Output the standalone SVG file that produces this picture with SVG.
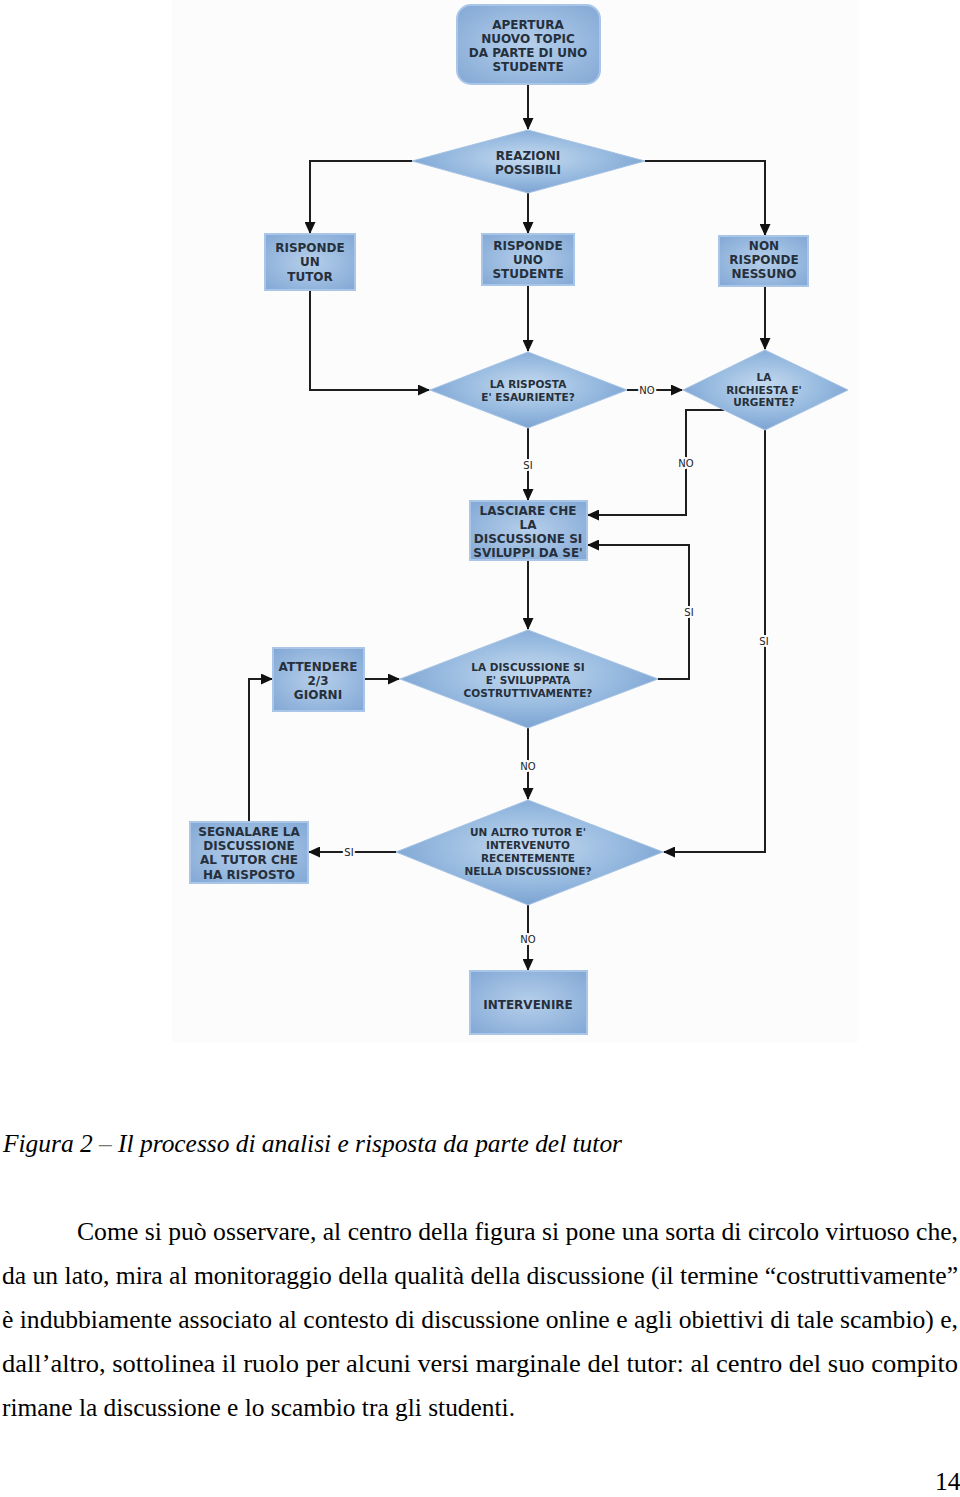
<svg xmlns="http://www.w3.org/2000/svg" width="960" height="1497" viewBox="0 0 960 1497">
<style>
.box{stroke:#a9c6e8;stroke-width:2;fill:url(#bg)}
.dia{fill:url(#dg);stroke:#a4c2e4;stroke-width:1}
.nt{font-family:"DejaVu Sans",Verdana,sans-serif;font-weight:bold;font-size:12px;fill:#26303c;text-anchor:middle}
.dt{font-family:"DejaVu Sans",Verdana,sans-serif;font-weight:bold;font-size:10.5px;fill:#26303c;text-anchor:middle}
.lbl{font-family:"DejaVu Sans",Verdana,sans-serif;font-size:10px;fill:#222;text-anchor:middle;stroke:#fcfcfc;stroke-width:4;paint-order:stroke}
.cn{fill:none;stroke:#1e1e1e;stroke-width:2}
.body{font-family:"Liberation Serif","Times New Roman",serif;font-size:25.5px;fill:#000}
</style>
<defs>
<radialGradient id="bg" cx="50%" cy="50%" r="70%">
<stop offset="0" stop-color="#b6cfeb"/>
<stop offset="1" stop-color="#82a8d5"/>
</radialGradient>
<radialGradient id="dg" cx="50%" cy="45%" r="55%">
<stop offset="0" stop-color="#c6daef"/>
<stop offset="0.6" stop-color="#98bbe0"/>
<stop offset="1" stop-color="#7ca3d2"/>
</radialGradient>
<marker id="ah" markerUnits="userSpaceOnUse" markerWidth="12" markerHeight="11" refX="11" refY="5.5" orient="auto">
<path d="M0,0 L12,5.5 L0,11 z" fill="#111"/>
</marker>
</defs>
<rect width="960" height="1497" fill="#fff"/>
<rect x="172" y="0" width="686" height="1042" fill="#fcfcfc"/>

<g id="connectors">
<path class="cn" d="M528,84 V129" marker-end="url(#ah)"/>
<path class="cn" d="M412,161 H310 V233" marker-end="url(#ah)"/>
<path class="cn" d="M645,161 H765 V235" marker-end="url(#ah)"/>
<path class="cn" d="M528,193 V233" marker-end="url(#ah)"/>
<path class="cn" d="M310,290 V390 H429" marker-end="url(#ah)"/>
<path class="cn" d="M528,285 V351" marker-end="url(#ah)"/>
<path class="cn" d="M765,286 V349" marker-end="url(#ah)"/>
<path class="cn" d="M627,390 H682" marker-end="url(#ah)"/>
<path class="cn" d="M724,410 H686 V515 H588" marker-end="url(#ah)"/>
<path class="cn" d="M528,428 V500" marker-end="url(#ah)"/>
<path class="cn" d="M658,679 H689 V545 H588" marker-end="url(#ah)"/>
<path class="cn" d="M528,560 V629" marker-end="url(#ah)"/>
<path class="cn" d="M364,679 H399" marker-end="url(#ah)"/>
<path class="cn" d="M528,728 V799" marker-end="url(#ah)"/>
<path class="cn" d="M765,430 V852 H664" marker-end="url(#ah)"/>
<path class="cn" d="M396,852 H309" marker-end="url(#ah)"/>
<path class="cn" d="M249,822 V679 H272" marker-end="url(#ah)"/>
<path class="cn" d="M528,905 V970" marker-end="url(#ah)"/>
</g>

<g id="edge-labels">
<text class="lbl" x="528" y="469">SI</text>
<text class="lbl" x="647" y="394">NO</text>
<text class="lbl" x="686" y="467">NO</text>
<text class="lbl" x="689" y="616">SI</text>
<text class="lbl" x="764" y="645">SI</text>
<text class="lbl" x="528" y="770">NO</text>
<text class="lbl" x="349" y="856">SI</text>
<text class="lbl" x="528" y="943">NO</text>
</g>

<g id="n-apertura">
<rect class="box" x="457" y="5" width="143" height="79" rx="14"/>
<text class="nt"><tspan x="528" y="28.5">APERTURA</tspan><tspan x="528" y="42.5">NUOVO TOPIC</tspan><tspan x="528" y="56.5">DA PARTE DI UNO</tspan><tspan x="528" y="70.5">STUDENTE</tspan></text>
</g>
<g id="n-reazioni">
<polygon class="dia" points="528,130 645,161 528,193 412,161"/>
<text class="nt"><tspan x="528" y="159.5">REAZIONI</tspan><tspan x="528" y="173.5">POSSIBILI</tspan></text>
</g>
<g id="n-tutor">
<rect class="box" x="265" y="234" width="90" height="56"/>
<text class="nt"><tspan x="310" y="251.5">RISPONDE</tspan><tspan x="310" y="266">UN</tspan><tspan x="310" y="280.5">TUTOR</tspan></text>
</g>
<g id="n-studente">
<rect class="box" x="482" y="234" width="92" height="51"/>
<text class="nt"><tspan x="528" y="249.5">RISPONDE</tspan><tspan x="528" y="263.5">UNO</tspan><tspan x="528" y="277.5">STUDENTE</tspan></text>
</g>
<g id="n-nessuno">
<rect class="box" x="719" y="236" width="89" height="50"/>
<text class="nt"><tspan x="764" y="249.5">NON</tspan><tspan x="764" y="264">RISPONDE</tspan><tspan x="764" y="278">NESSUNO</tspan></text>
</g>
<g id="n-esauriente">
<polygon class="dia" points="528,352 627,390 528,428 430,390"/>
<text class="dt"><tspan x="528" y="388">LA RISPOSTA</tspan><tspan x="528" y="401">E' ESAURIENTE?</tspan></text>
</g>
<g id="n-urgente">
<polygon class="dia" points="765,350 848,390 765,430 683,390"/>
<text class="dt"><tspan x="764" y="381">LA</tspan><tspan x="764" y="394">RICHIESTA E'</tspan><tspan x="764" y="406">URGENTE?</tspan></text>
</g>
<g id="n-lasciare">
<rect class="box" x="470" y="501" width="117" height="59"/>
<text class="nt"><tspan x="528" y="514.5">LASCIARE CHE</tspan><tspan x="528" y="528.5">LA</tspan><tspan x="528" y="542.5">DISCUSSIONE SI</tspan><tspan x="528" y="556.5">SVILUPPI DA SE'</tspan></text>
</g>
<g id="n-costruttivamente">
<polygon class="dia" points="528,630 658,679 528,728 400,679"/>
<text class="dt"><tspan x="528" y="671">LA DISCUSSIONE SI</tspan><tspan x="528" y="684">E' SVILUPPATA</tspan><tspan x="528" y="697">COSTRUTTIVAMENTE?</tspan></text>
</g>
<g id="n-attendere">
<rect class="box" x="273" y="648" width="91" height="63"/>
<text class="nt"><tspan x="318" y="670.5">ATTENDERE</tspan><tspan x="318" y="684.5">2/3</tspan><tspan x="318" y="698.5">GIORNI</tspan></text>
</g>
<g id="n-altro-tutor">
<polygon class="dia" points="528,800 663,852 528,905 396,852"/>
<text class="dt"><tspan x="528" y="836">UN ALTRO TUTOR E'</tspan><tspan x="528" y="849">INTERVENUTO</tspan><tspan x="528" y="862">RECENTEMENTE</tspan><tspan x="528" y="875">NELLA DISCUSSIONE?</tspan></text>
</g>
<g id="n-segnalare">
<rect class="box" x="190" y="822" width="118" height="61"/>
<text class="nt"><tspan x="249" y="835.5">SEGNALARE LA</tspan><tspan x="249" y="849.5">DISCUSSIONE</tspan><tspan x="249" y="863.5">AL TUTOR CHE</tspan><tspan x="249" y="878.5">HA RISPOSTO</tspan></text>
</g>
<g id="n-intervenire">
<rect class="box" x="470" y="971" width="117" height="63"/>
<text class="nt" x="528" y="1008.5">INTERVENIRE</text>
</g>

<g id="caption">
<text class="body" x="3" y="1152" font-style="italic" textLength="619" lengthAdjust="spacingAndGlyphs">Figura 2 <tspan fill="#777">–</tspan> Il processo di analisi e risposta da parte del tutor</text>
</g>
<g id="paragraph">
<text class="body" x="77" y="1240" textLength="881" lengthAdjust="spacingAndGlyphs">Come si può osservare, al centro della figura si pone una sorta di circolo virtuoso che,</text>
<text class="body" x="2" y="1284" textLength="956" lengthAdjust="spacingAndGlyphs">da un lato, mira al monitoraggio della qualità della discussione (il termine “costruttivamente”</text>
<text class="body" x="2" y="1328" textLength="956" lengthAdjust="spacingAndGlyphs">è indubbiamente associato al contesto di discussione online e agli obiettivi di tale scambio) e,</text>
<text class="body" x="2" y="1372" textLength="956" lengthAdjust="spacingAndGlyphs">dall’altro, sottolinea il ruolo per alcuni versi marginale del tutor: al centro del suo compito</text>
<text class="body" x="2" y="1416" textLength="513" lengthAdjust="spacingAndGlyphs">rimane la discussione e lo scambio tra gli studenti.</text>
<text class="body" x="935" y="1490" font-size="21">14</text>
</g>
</svg>
